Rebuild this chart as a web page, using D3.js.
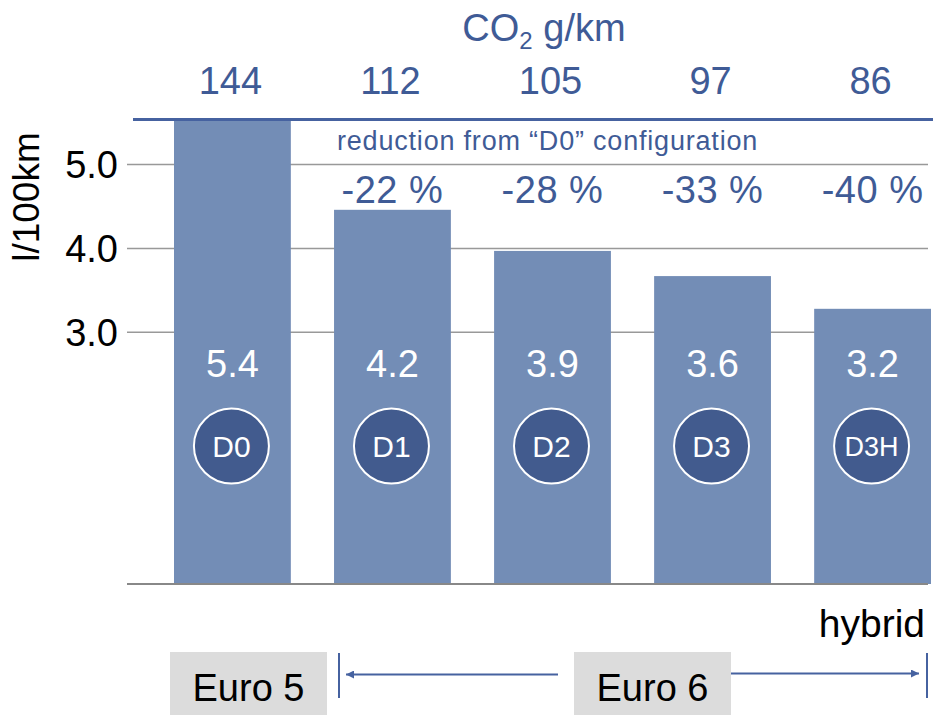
<!DOCTYPE html>
<html>
<head>
<meta charset="utf-8">
<script src="https://cdn.jsdelivr.net/npm/d3@7/dist/d3.min.js"></script>
<style>
  html, body { margin: 0; padding: 0; background: #fff; }
  svg { display: block; font-family: "Liberation Sans", Arial, sans-serif; }
</style>
</head>
<body>
<svg id="chart" width="933" height="715"></svg>
<script>
// ---- data ----
const configs = ["D0", "D1", "D2", "D3", "D3H"];
const barHeights = [5.52, 4.46, 3.97, 3.67, 3.28];   // bar heights as drawn (l/100km)
const fuelLabels = ["5.4", "4.2", "3.9", "3.6", "3.2"];
const co2 = [144, 112, 105, 97, 86];
const reductions = ["", "-22 %", "-28 %", "-33 %", "-40 %"];
const yTicks = [3.0, 4.0, 5.0];
const yTitle = "l/100km";
const co2Title = "g/km";
const reductionNote = "reduction from \u201CD0\u201D configuration";
const hybridNote = "hybrid";
const euroLabels = ["Euro 5", "Euro 6"];

// ---- styles ----
const BLUE_TEXT = "#3f5b96";
const BAR = "#738db6";
const CIRCLE = "#425b8e";
const LINE = "#4662a0";

const svg = d3.select("#chart");

const x = d3.scaleBand().domain(configs).range([174, 931]).paddingInner(0.27).paddingOuter(0);
const y = d3.scaleLinear().domain([0, 5]).range([584, 164.5]);

// gridlines
svg.append("g").selectAll("line").data(yTicks).join("line")
  .attr("x1", 127).attr("x2", 928)
  .attr("y1", d => y(d)).attr("y2", d => y(d))
  .attr("stroke", "#999").attr("stroke-width", 1.5);

// y tick labels
svg.append("g").selectAll("text").data(yTicks).join("text")
  .attr("x", 118).attr("y", d => y(d))
  .attr("dy", "0.36em")
  .attr("text-anchor", "end")
  .attr("font-size", 38).attr("fill", "#000")
  .text(d => d3.format(".1f")(d));

// y title
svg.append("text")
  .attr("transform", "translate(26,197) rotate(-90)")
  .attr("text-anchor", "middle").attr("dy", "0.35em")
  .attr("font-size", 37).attr("fill", "#000")
  .text(yTitle);

// bars
svg.append("g").selectAll("rect").data(configs).join("rect")
  .attr("x", d => x(d)).attr("width", x.bandwidth())
  .attr("y", (d, i) => y(barHeights[i]))
  .attr("height", (d, i) => y(0) - y(barHeights[i]))
  .attr("fill", BAR);

// baseline
svg.append("line")
  .attr("x1", 127).attr("x2", 928).attr("y1", y(0)).attr("y2", y(0))
  .attr("stroke", "#888").attr("stroke-width", 2);

// top line
svg.append("line")
  .attr("x1", 133).attr("x2", 933).attr("y1", 119.5).attr("y2", 119.5)
  .attr("stroke", LINE).attr("stroke-width", 3);

const cx = d => x(d) + x.bandwidth() / 2;

// CO2 title
const t = svg.append("text").attr("x", 544).attr("y", 41)
  .attr("text-anchor", "middle").attr("font-size", 38).attr("fill", BLUE_TEXT);
t.append("tspan").text("CO");
t.append("tspan").attr("font-size", 24).attr("dy", 8).text("2");
t.append("tspan").attr("dy", -8).text(" " + co2Title);

// CO2 values
svg.append("g").selectAll("text").data(configs).join("text")
  .attr("x", d => cx(d) - 2).attr("y", 94)
  .attr("text-anchor", "middle").attr("font-size", 38).attr("fill", BLUE_TEXT)
  .text((d, i) => co2[i]);

// reduction note
svg.append("text").attr("x", 337).attr("y", 150)
  .attr("font-size", 27).attr("letter-spacing", 0.8).attr("fill", BLUE_TEXT)
  .text(reductionNote);

// reductions
svg.append("g").selectAll("text").data(configs).join("text")
  .attr("x", d => cx(d)).attr("y", 203)
  .attr("text-anchor", "middle").attr("font-size", 38).attr("letter-spacing", 0.5).attr("fill", BLUE_TEXT)
  .text((d, i) => reductions[i]);

// fuel labels inside bars
svg.append("g").selectAll("text").data(configs).join("text")
  .attr("x", d => cx(d)).attr("y", 377)
  .attr("text-anchor", "middle").attr("font-size", 38).attr("fill", "#fff")
  .text((d, i) => fuelLabels[i]);

// circles
const badges = svg.append("g").selectAll("g").data(configs).join("g")
  .attr("transform", d => `translate(${cx(d) - 1},446)`);
badges.append("circle").attr("r", 37.5)
  .attr("fill", CIRCLE).attr("stroke", "#fff").attr("stroke-width", 2);
badges.append("text")
  .attr("text-anchor", "middle").attr("dy", "0.36em")
  .attr("font-size", d => d.length > 2 ? 27 : 30).attr("fill", "#fff")
  .text(d => d);

// hybrid
svg.append("text").attr("x", 925).attr("y", 637)
  .attr("text-anchor", "end").attr("font-size", 39).attr("fill", "#000")
  .text(hybridNote);

// Euro boxes
const boxes = [
  { x0: 170, x1: 327, label: euroLabels[0] },
  { x0: 574, x1: 731, label: euroLabels[1] }
];
svg.append("g").selectAll("rect").data(boxes).join("rect")
  .attr("x", d => d.x0).attr("y", 652).attr("width", d => d.x1 - d.x0).attr("height", 63)
  .attr("fill", "#dcdcdc");
svg.append("g").selectAll("text").data(boxes).join("text")
  .attr("x", d => (d.x0 + d.x1) / 2).attr("y", 701)
  .attr("text-anchor", "middle").attr("font-size", 38).attr("fill", "#000")
  .text(d => d.label);

// arrows
const defs = svg.append("defs");
defs.append("marker").attr("id", "ah").attr("viewBox", "0 0 10 10")
  .attr("refX", 10).attr("refY", 5).attr("markerWidth", 9).attr("markerHeight", 8)
  .attr("markerUnits", "userSpaceOnUse").attr("orient", "auto-start-reverse")
  .append("path").attr("d", "M0,0 L10,5 L0,10 Z").attr("fill", LINE);

svg.append("line").attr("x1", 339).attr("x2", 339).attr("y1", 653).attr("y2", 698)
  .attr("stroke", LINE).attr("stroke-width", 2);
svg.append("line").attr("x1", 927).attr("x2", 927).attr("y1", 653).attr("y2", 698)
  .attr("stroke", LINE).attr("stroke-width", 2);
svg.append("line").attr("x1", 558).attr("x2", 346).attr("y1", 674.5).attr("y2", 674.5)
  .attr("stroke", LINE).attr("stroke-width", 2).attr("marker-end", "url(#ah)");
svg.append("line").attr("x1", 731).attr("x2", 919).attr("y1", 673.5).attr("y2", 673.5)
  .attr("stroke", LINE).attr("stroke-width", 2).attr("marker-end", "url(#ah)");
</script>
</body>
</html>
